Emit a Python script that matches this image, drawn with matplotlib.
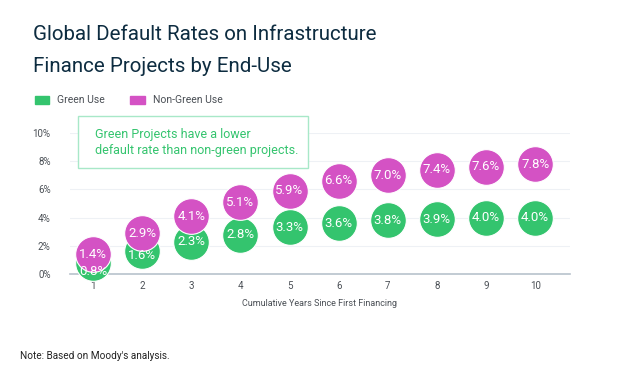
import matplotlib.pyplot as plt
from matplotlib.patches import Rectangle

years = [1, 2, 3, 4, 5, 6, 7, 8, 9, 10]
green_use = [0.8, 1.6, 2.3, 2.8, 3.3, 3.6, 3.8, 3.9, 4.0, 4.0]
non_green_use = [1.4, 2.9, 4.1, 5.1, 5.9, 6.6, 7.0, 7.4, 7.6, 7.8]
y_ticks = [0, 2, 4, 6, 8, 10]

GREEN = "#34C46E"
MAGENTA = "#D452C4"
NAVY = "#0D2C40"
GRAY = "#4A4F55"

plt.rcParams["font.family"] = ["Roboto", "DejaVu Sans"]

fig = plt.figure(figsize=(6.2, 3.81), dpi=100)
ax = fig.add_axes([70 / 620, 1 - 274 / 381, 500 / 620, 141 / 381])

# bubbles, labels on top of all circles
ax.scatter(years, green_use, s=660, color=GREEN, edgecolor="white",
           linewidth=0.8, zorder=3, clip_on=False)
ax.scatter(years, non_green_use, s=660, color=MAGENTA, edgecolor="white",
           linewidth=0.8, zorder=4, clip_on=False)
for i, (x, g, n) in enumerate(zip(years, green_use, non_green_use)):
    # first two green labels are pushed down a little, as in the source
    dy = [-6.5, -3][i] if i < 2 else 0
    ax.annotate(f"{g:.1f}%", (x, g), xytext=(0, dy), textcoords="offset points",
                color="white", fontsize=9.5, ha="center", va="center",
                zorder=5, annotation_clip=False)
    ax.text(x, n, f"{n:.1f}%", color="white", fontsize=9.5, ha="center",
            va="center", zorder=6)

ax.set_xlim(0.53, 10.71)
ax.set_ylim(0, 10)
ax.set_xticks(years)
ax.set_yticks(y_ticks)
ax.set_yticklabels([f"{v}%" for v in y_ticks])
ax.tick_params(length=0, labelsize=7, colors=GRAY)
ax.tick_params(axis="y", pad=14)
ax.tick_params(axis="x", pad=5)
ax.grid(axis="y", color="#EEF1F5", linewidth=0.8)
ax.set_axisbelow(True)
for side in ["top", "right", "left"]:
    ax.spines[side].set_visible(False)
ax.spines["bottom"].set_color("#B8C2CC")
ax.spines["bottom"].set_linewidth(1.2)
ax.set_xlabel("Cumulative Years Since First Financing", fontsize=6.5,
              color=GRAY, labelpad=6)

# callout box
fig.patches.append(Rectangle((78 / 620, 1 - 168 / 381), 230 / 620, 52 / 381,
                             transform=fig.transFigure, facecolor="white",
                             edgecolor="#A8E8C8", linewidth=1, zorder=10))
fig.text(95 / 620, 1 - 142 / 381,
         "Green Projects have a lower\ndefault rate than non-green projects.",
         color=GREEN, fontsize=9, va="center", ha="left", linespacing=1.3,
         zorder=11)

# title
fig.text(33 / 620, 1 - 34 / 381, "Global Default Rates on Infrastructure",
         fontsize=14.8, color=NAVY, va="center", ha="left")
fig.text(33 / 620, 1 - 66 / 381, "Finance Projects by End-Use",
         fontsize=14.8, color=NAVY, va="center", ha="left")

# legend
fig.patches.append(Rectangle((35 / 620, 1 - 104 / 381), 14 / 620, 8 / 381,
                             transform=fig.transFigure, color=GREEN))
fig.text(57 / 620, 1 - 100 / 381, "Green Use", fontsize=7.5, color=GRAY,
         va="center")
fig.patches.append(Rectangle((130 / 620, 1 - 104 / 381), 15 / 620, 8 / 381,
                             transform=fig.transFigure, color=MAGENTA))
fig.text(153 / 620, 1 - 100 / 381, "Non-Green Use", fontsize=7.5, color=GRAY,
         va="center")

fig.text(20 / 620, 1 - 356 / 381, "Note: Based on Moody's analysis.",
         fontsize=7.2, color="#222222", va="center")

fig.savefig("out.png", dpi=100, facecolor="white")
